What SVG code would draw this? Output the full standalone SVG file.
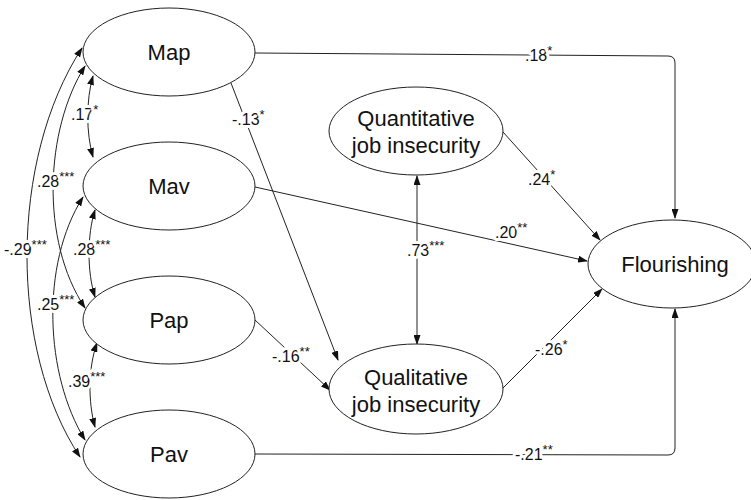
<svg xmlns="http://www.w3.org/2000/svg" width="751" height="500" viewBox="0 0 751 500">
<style>
.node ellipse{fill:#fff;stroke:#222;stroke-width:1}
.node text{font-family:"Liberation Sans",Arial,Helvetica,sans-serif;font-size:22px;fill:#111;text-anchor:middle}
.conn path{fill:none;stroke:#222;stroke-width:1}
.one{marker-end:url(#ah)}
.two{marker-start:url(#ah);marker-end:url(#ah)}
.lbl{font-family:"Liberation Sans",Arial,Helvetica,sans-serif;font-size:16px;fill:#111;stroke:#fff;stroke-width:6;stroke-linejoin:round;paint-order:stroke}
.sup{font-size:13px}
</style>
<defs>
<marker id="ah" markerUnits="userSpaceOnUse" markerWidth="10" markerHeight="7" refX="9" refY="3.5" orient="auto-start-reverse" viewBox="0 0 10 7">
<path d="M0,0 L10,3.5 L0,7 z" fill="#111"/>
</marker>
</defs>
<rect width="751" height="500" fill="#fff"/>
<g id="connectors" class="conn">
<path class="one" d="M255,53 L668,56 Q675,56 675,63 L675,218"/>
<path class="one" d="M255,454 L668,455 Q675,455 675,448 L675,309"/>
<path class="one" d="M255,187 L587,261"/>
<path class="one" d="M503,132 L600,240"/>
<path class="one" d="M503,388 L602,289"/>
<path class="two" d="M417,176 L417,344"/>
<path class="one" d="M231,83 L338,360"/>
<path class="one" d="M255,320 L330,390"/>
<path class="two" d="M93,76 C86,100 86,133 93,157"/>
<path class="two" d="M95,210 C87,235 87,272 95,297"/>
<path class="two" d="M97,343 C88,368 88,402 95,427"/>
<path class="two" d="M85,66 C45,130 40,240 85,308"/>
<path class="two" d="M83,197 C40,265 45,375 85,440"/>
<path class="two" d="M82,48 C9,160 9,350 80,457"/>
</g>
<g id="labels">
<text class="lbl" x="525" y="61">.18<tspan class="sup" dy="-6">*</tspan></text>
<text class="lbl" x="232" y="125">-.13<tspan class="sup" dy="-6">*</tspan></text>
<text class="lbl" x="495" y="238">.20<tspan class="sup" dy="-6">**</tspan></text>
<text class="lbl" x="528" y="185">.24<tspan class="sup" dy="-6">*</tspan></text>
<text class="lbl" x="407" y="256">.73<tspan class="sup" dy="-6">***</tspan></text>
<text class="lbl" x="272" y="362">-.16<tspan class="sup" dy="-6">**</tspan></text>
<text class="lbl" x="535" y="355">-.26<tspan class="sup" dy="-6">*</tspan></text>
<text class="lbl" x="515" y="460">-.21<tspan class="sup" dy="-6">**</tspan></text>
<text class="lbl" x="71" y="120">.17<tspan class="sup" dy="-6">*</tspan></text>
<text class="lbl" x="37" y="187">.28<tspan class="sup" dy="-6">***</tspan></text>
<text class="lbl" x="73" y="255">.28<tspan class="sup" dy="-6">***</tspan></text>
<text class="lbl" x="4" y="255">-.29<tspan class="sup" dy="-6">***</tspan></text>
<text class="lbl" x="37" y="310">.25<tspan class="sup" dy="-6">***</tspan></text>
<text class="lbl" x="68" y="387">.39<tspan class="sup" dy="-6">***</tspan></text>
</g>
<g id="map" class="node"><ellipse cx="169" cy="52" rx="86" ry="44"/><text x="169" y="60">Map</text></g>
<g id="mav" class="node"><ellipse cx="169" cy="186" rx="86" ry="44"/><text x="169" y="194">Mav</text></g>
<g id="pap" class="node"><ellipse cx="169" cy="320" rx="86" ry="44"/><text x="169" y="328">Pap</text></g>
<g id="pav" class="node"><ellipse cx="169" cy="454" rx="86" ry="44"/><text x="169" y="462">Pav</text></g>
<g id="quant" class="node"><ellipse cx="416" cy="131" rx="87" ry="44"/><text x="416" y="126">Quantitative</text><text x="416" y="153">job insecurity</text></g>
<g id="qual" class="node"><ellipse cx="416" cy="389" rx="87" ry="45"/><text x="416" y="385">Qualitative</text><text x="416" y="412">job insecurity</text></g>
<g id="flour" class="node"><ellipse cx="672" cy="264" rx="84" ry="44"/><text x="675" y="272">Flourishing</text></g>
</svg>
